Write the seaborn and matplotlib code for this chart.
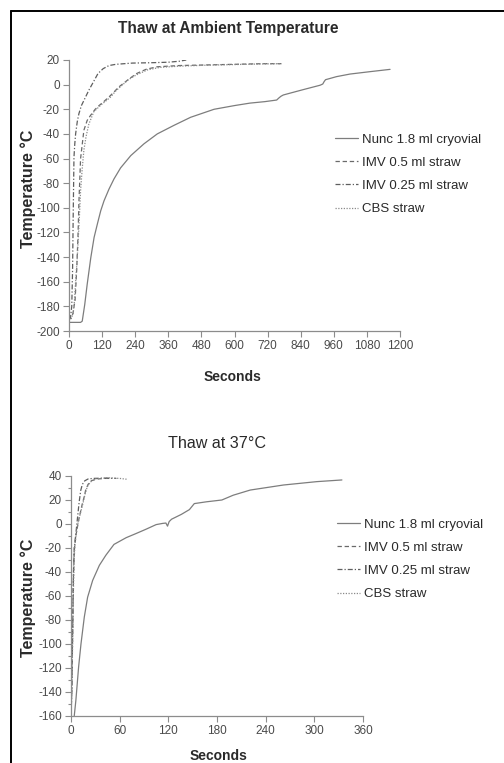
import numpy as np
import pandas as pd
import seaborn as sns
import matplotlib
matplotlib.use("Agg")
import matplotlib.pyplot as plt
from matplotlib.lines import Line2D
from matplotlib.ticker import MultipleLocator

# ---- Thaw at ambient temperature (seconds, deg C) ----
amb_nunc_t = [0, 42, 48, 57, 66, 79, 91, 103, 115, 127, 145, 163, 187, 224, 272, 320, 381,
              441, 526, 600, 656, 710, 753, 760, 768, 777, 800, 850, 910, 920, 925, 930,
              970, 1019, 1090, 1164]
amb_nunc_T = [-193, -193, -192, -178.6, -162, -140.5, -124, -113, -102.4, -94.3, -84.8,
              -76.6, -67.6, -57.6, -48, -40, -33, -26.5, -20, -17, -15, -13.8, -12.5, -11,
              -9.5, -8.4, -7, -4, -0.5, 0.5, 2.5, 4, 6.5, 8.6, 10.5, 12.4]

amb_imv05_t = [0, 6, 14, 22, 28, 33, 36, 42, 54, 66, 78, 95, 109, 125, 145, 163, 180, 197,
               220, 245, 280, 320, 400, 500, 600, 700, 770]
amb_imv05_T = [-186, -189, -186, -175, -150, -120, -95, -60, -37, -29, -25, -20, -17, -14,
               -10, -6, -2, 1, 5, 9, 12.5, 14.5, 15.5, 16, 16.5, 17, 17]

amb_imv025_t = [0, 5, 10, 13, 15, 18, 21, 24, 30, 36, 45, 58, 72, 88, 105, 124, 145, 170,
                230, 300, 360, 400, 425]
amb_imv025_T = [-190, -190, -180, -150, -110, -59, -48, -40, -30, -23.5, -17, -11, -4.5, 2,
                9, 13, 15.5, 16.5, 17.5, 17.8, 18.2, 19, 20]

amb_cbs_t = [0, 8, 15, 20, 24, 30, 36, 42, 48, 54, 62, 72, 90, 115, 135, 151, 170, 190,
             215, 245, 285, 330, 400, 500, 600, 700, 770]
amb_cbs_T = [-188, -190, -186, -175, -160, -140, -115, -86, -68, -53, -42, -32, -22, -16.7,
             -13, -10, -5, -1, 4, 8, 12, 14, 15, 15.8, 16.3, 16.8, 17]

# ---- Thaw at 37 deg C (seconds, deg C) ----
w37_nunc_t = [3, 4, 6, 9.4, 12.3, 16.4, 20.5, 26.7, 35, 43, 53, 68, 80, 92, 105, 113, 117,
              119, 121, 124, 130, 136, 146, 152, 167, 186, 200, 221, 262, 303, 334]
w37_nunc_T = [-168, -160, -147, -119, -100, -77.5, -61, -47, -34.4, -26, -17, -11.4, -8,
              -4.5, -0.5, 0.5, 0.8, -1.8, 2, 4, 6, 8, 12, 17, 18.5, 20, 24, 28.3, 32.5,
              35.3, 36.7]

w37_imv05_t = [0, 1, 2, 3, 4, 6, 8, 10, 12, 14, 16, 18, 21, 25, 32, 42, 50]
w37_imv05_T = [-158, -135, -90, -45, -22, -10, -2, 5, 11, 17, 22, 28, 33, 36, 37.5, 38, 38]

w37_imv025_t = [0, 1, 2, 3, 4, 6, 8, 10, 12, 14, 17, 21, 27, 40, 56]
w37_imv025_T = [-160, -140, -90, -40, -20, -8, 5, 18, 28, 33, 36, 37.5, 38, 38.2, 38]

w37_cbs_t = [0, 1, 2, 3, 4, 5, 7, 9, 12, 15, 17, 20, 24, 30, 45, 60, 70]
w37_cbs_T = [-160, -140, -100, -55, -28, -16, -6, 2, 10, 18, 24, 31, 35, 37.5, 38.5, 38, 37.2]

series_names = ["Nunc 1.8 ml cryovial", "IMV 0.5 ml straw", "IMV 0.25 ml straw", "CBS straw"]


def frame(groups):
    parts = []
    for name, (t, T) in zip(series_names, groups):
        parts.append(pd.DataFrame({"Seconds": t, "Temp": T, "series": name}))
    return pd.concat(parts, ignore_index=True)


ambient = frame([(amb_nunc_t, amb_nunc_T), (amb_imv05_t, amb_imv05_T),
                 (amb_imv025_t, amb_imv025_T), (amb_cbs_t, amb_cbs_T)])
warm = frame([(w37_nunc_t, w37_nunc_T), (w37_imv05_t, w37_imv05_T),
              (w37_imv025_t, w37_imv025_T), (w37_cbs_t, w37_cbs_T)])

sns.set_style("ticks")
plt.rcParams["font.family"] = ["Liberation Sans", "DejaVu Sans"]
plt.rcParams["axes.unicode_minus"] = False

palette = {series_names[0]: "#7d7d7d", series_names[1]: "#6a6a6a",
           series_names[2]: "#5e5e5e", series_names[3]: "#8a8a8a"}
dashes = {series_names[0]: "", series_names[1]: (3.5, 2.2),
          series_names[2]: (4, 1.6, 1, 1.6), series_names[3]: (1, 1.2)}

W, H = 504, 763
fig = plt.figure(figsize=(W / 100, H / 100), dpi=100)

axis_grey = "#8c8c8c"
text_col = "#2a2a2a"
tick_col = "#4a4a4a"


def px_axes(left, top, right, bottom):
    return fig.add_axes([left / W, 1 - bottom / H, (right - left) / W, (bottom - top) / H])


def style_axes(ax):
    sns.despine(ax=ax)
    for s in ("left", "bottom"):
        ax.spines[s].set_color(axis_grey)
        ax.spines[s].set_linewidth(0.9)
    ax.tick_params(axis="both", which="both", direction="out", color=axis_grey,
                   labelcolor=tick_col, labelsize=8.5, width=0.8)
    ax.tick_params(which="major", length=4, pad=2.5)
    ax.tick_params(which="minor", length=2.5)
    ax.set_xlabel("")
    ax.set_ylabel("")
    ax.set_facecolor("white")


def draw(ax, data):
    sns.lineplot(data=data, x="Seconds", y="Temp", hue="series", style="series",
                 palette=palette, dashes=dashes, sort=False, estimator=None,
                 linewidth=0.9, ax=ax)


legend_kw = dict(loc="upper left", bbox_transform=fig.transFigure, frameon=False,
                 title=None, fontsize=9.5, handlelength=1.75, handletextpad=0.3,
                 labelspacing=0.83, borderpad=0, borderaxespad=0, labelcolor=text_col)

# top panel
ax1 = px_axes(69, 60, 400, 331)
draw(ax1, ambient)
ax1.set_xlim(0, 1200)
ax1.set_ylim(-200, 20)
ax1.set_xticks(np.arange(0, 1201, 120))
ax1.set_yticks(np.arange(-200, 21, 20))
style_axes(ax1)
sns.move_legend(ax1, bbox_to_anchor=(335 / W, 1 - 133.5 / H), **legend_kw)

# bottom panel
ax2 = px_axes(71, 476, 363, 716)
draw(ax2, warm)
ax2.set_xlim(0, 360)
ax2.set_ylim(-160, 40)
ax2.set_xticks(np.arange(0, 361, 60))
ax2.set_yticks(np.arange(-160, 41, 20))
ax2.yaxis.set_minor_locator(MultipleLocator(10))
style_axes(ax2)
sns.move_legend(ax2, bbox_to_anchor=(337 / W, 1 - 518.5 / H), **legend_kw)

# titles and axis labels
fig.text(228 / W, 1 - 28 / H, "Thaw at Ambient Temperature", ha="center", va="center",
         fontsize=11.2, fontweight="bold", color=text_col)
fig.text(217 / W, 1 - 443 / H, "Thaw at 37°C", ha="center", va="center",
         fontsize=11.6, color=text_col)
fig.text(233 / W, 1 - 377 / H, "Seconds", ha="center", va="center",
         fontsize=10, fontweight="bold", color=text_col)
fig.text(219 / W, 1 - 756 / H, "Seconds", ha="center", va="center",
         fontsize=10, fontweight="bold", color=text_col)
fig.text(28 / W, 1 - 189 / H, "Temperature °C", ha="center", va="center", rotation=90,
         fontsize=11.5, fontweight="bold", color=text_col)
fig.text(28 / W, 1 - 598 / H, "Temperature °C", ha="center", va="center", rotation=90,
         fontsize=11.5, fontweight="bold", color=text_col)

# outer frame along the left and top edges
fig.add_artist(Line2D([11 / W, 11 / W], [0, 1 - 11 / H], transform=fig.transFigure,
                      color="black", linewidth=1.4))
fig.add_artist(Line2D([11 / W, 1], [1 - 11 / H, 1 - 11 / H], transform=fig.transFigure,
                      color="black", linewidth=1.4))

fig.savefig("out.png", dpi=100, facecolor="white")
